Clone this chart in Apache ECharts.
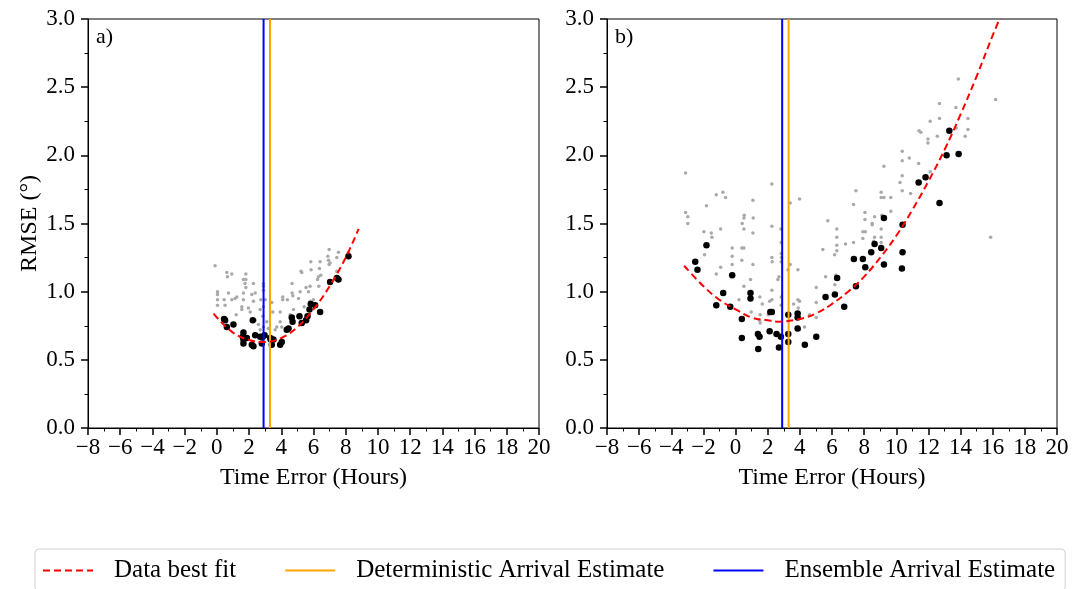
<!DOCTYPE html>
<html><head><meta charset="utf-8">
<script src="https://cdn.jsdelivr.net/npm/echarts@6/dist/echarts.min.js"></script>
<style>html,body{margin:0;padding:0;background:#fff}#c{width:1083px;height:589px}</style>
</head><body><div id="c"></div><script>
// ---- data ----
const xTicksLabel = 'Time Error (Hours)';
const yTicksLabel = 'RMSE (°)';
const panelLabels = ['a)', 'b)'];
const deterministicArrival = 3.3;
const ensembleArrival = 2.9;

const panelAGrey = [
[-0.11,1.19],[0.62,1.14],[0.93,1.13],[0.66,1.11],[1.80,1.13],[1.65,1.09],[1.80,1.09],[1.75,1.06],[1.80,1.03],[2.27,1.06],[2.89,1.06],[2.89,1.04],[2.89,1.01],[0.04,1.00],[0.04,0.98],[0.04,0.94],[0.04,0.90],[0.45,0.94],[0.51,0.90],[1.13,0.95],[1.24,0.96],[1.65,0.99],[1.65,0.94],[2.17,0.98],[2.27,0.93],[2.38,0.99],[2.73,0.94],[2.69,0.87],[2.89,0.89],[3.00,0.94],[2.85,0.82],[2.89,0.74],[2.69,0.72],[3.41,0.92],[3.47,0.85],[3.20,0.73],[3.93,0.85],[4.09,0.96],[4.09,0.94],[4.38,0.94],[4.67,1.06],[4.67,0.99],[4.72,0.97],[5.17,1.00],[5.27,1.14],[5.54,1.03],[5.69,1.00],[5.79,1.04],[5.83,1.22],[6.31,1.11],[6.25,1.09],[6.33,1.04],[6.41,1.22],[6.45,1.12],[6.97,1.31],[6.89,1.26],[7.03,1.21],[7.45,1.25],[7.55,1.29],[6.93,1.23],[6.37,1.17],[5.07,0.95],[4.76,0.87],[3.93,0.78],[3.62,0.72],[2.07,0.85],[1.55,0.87],[1.20,0.83],[1.55,0.89],[2.38,0.79],[2.58,0.76],[3.10,0.78],[3.72,0.74],[4.03,0.74],[4.55,0.83],[5.42,0.89],[5.99,0.94],[5.79,0.93],[0.72,0.99],[0.93,0.94],[1.96,0.88],[8.17,1.29],[7.45,1.15],[6.97,1.20],[5.85,1.16],[5.23,1.15]
];
const panelABlack = [
[0.45,0.80],[0.51,0.79],[0.62,0.74],[1.03,0.76],[1.65,0.70],[1.61,0.67],[1.65,0.65],[1.65,0.62],[2.17,0.61],[2.27,0.60],[2.23,0.79],[2.38,0.68],[2.69,0.67],[2.79,0.62],[2.96,0.68],[3.35,0.65],[3.41,0.61],[3.31,0.66],[3.93,0.61],[4.03,0.63],[4.34,0.72],[4.45,0.73],[4.65,0.81],[4.70,0.78],[5.13,0.82],[5.27,0.77],[5.54,0.79],[5.63,0.82],[5.75,0.87],[5.83,0.91],[6.10,0.90],[6.41,0.85],[7.03,1.07],[7.45,1.10],[7.55,1.09],[8.17,1.26],[2.85,0.67],[1.86,0.66],[3.51,0.65]
];
const panelBGrey = [
[-3.11,1.87],[-3.11,1.58],[-2.97,1.55],[-2.97,1.50],[-1.81,1.63],[-1.97,1.44],[-1.51,1.43],[-1.47,1.40],[-1.93,1.27],[-1.20,1.71],[-0.79,1.73],[-0.62,1.69],[-0.93,1.46],[-0.21,1.32],[-0.21,1.26],[-0.21,1.20],[-0.23,1.13],[0.41,1.50],[0.39,1.32],[0.52,1.32],[0.39,1.23],[0.52,1.46],[0.54,1.56],[0.52,1.54],[1.08,1.67],[1.10,1.54],[1.08,1.43],[1.08,1.20],[0.93,1.09],[-1.20,1.13],[-0.93,1.18],[0.52,1.04],[0.21,0.94],[0.93,0.99],[1.51,0.96],[1.66,0.91],[2.26,1.79],[2.26,1.48],[2.26,1.25],[2.28,1.22],[2.26,1.01],[2.26,0.94],[1.53,0.83],[1.53,0.77],[1.49,0.79],[2.82,1.46],[2.84,1.36],[2.84,1.28],[2.86,1.25],[2.84,1.22],[2.84,0.96],[2.84,0.90],[2.63,1.09],[2.70,1.11],[3.40,1.65],[3.26,1.16],[3.40,1.20],[3.98,1.68],[3.88,1.16],[3.88,0.94],[3.90,0.88],[3.98,0.93],[3.61,0.91],[4.61,0.83],[5.02,1.03],[5.02,0.92],[4.29,0.74],[2.12,0.93],[0.97,0.85],[2.03,0.83],
[13.86,2.56],[16.18,2.41],[12.69,2.38],[13.71,2.35],[12.69,2.27],[12.11,2.25],[14.46,2.27],[11.41,2.18],[11.53,2.17],[12.55,2.14],[11.97,2.12],[11.97,2.09],[13.73,2.20],[14.46,2.19],[14.29,2.14],[10.37,2.03],[10.37,1.96],[10.81,1.98],[11.39,1.94],[12.11,1.88],[10.37,1.85],[9.23,1.92],[10.23,1.80],[10.37,1.74],[10.89,1.72],[7.49,1.74],[9.06,1.73],[9.23,1.69],[9.06,1.69],[9.66,1.69],[7.34,1.64],[9.66,1.59],[8.05,1.58],[8.05,1.53],[8.65,1.55],[8.50,1.50],[8.50,1.49],[9.06,1.46],[9.10,1.56],[5.74,1.52],[6.30,1.46],[6.30,1.40],[6.30,1.34],[6.30,1.30],[6.84,1.35],[7.34,1.36],[7.92,1.44],[8.07,1.44],[7.92,1.39],[8.65,1.40],[8.59,1.37],[9.06,1.40],[9.06,1.36],[5.43,1.31],[6.16,1.27],[5.60,1.11],[6.24,1.12],[15.87,1.40],[6.18,1.05],[5.02,0.81],[3.98,0.72],[3.98,0.84]
];
const panelBBlack = [
[-1.81,1.34],[-2.51,1.22],[-2.37,1.16],[-0.21,1.12],[-1.20,0.90],[-0.77,0.99],[-0.33,0.89],[0.39,0.80],[0.93,0.99],[0.93,0.95],[0.39,0.66],[1.39,0.69],[1.49,0.67],[1.41,0.58],[2.12,0.71],[2.16,0.85],[2.26,0.85],[2.55,0.69],[2.82,0.67],[2.70,0.59],[3.28,0.83],[3.28,0.69],[3.28,0.63],[3.86,0.84],[3.86,0.81],[3.86,0.73],[4.31,0.61],[5.02,0.67],
[13.30,2.18],[13.13,2.00],[13.88,2.01],[11.82,1.84],[11.39,1.80],[12.69,1.65],[9.23,1.54],[10.39,1.49],[8.65,1.35],[9.06,1.32],[8.44,1.29],[10.39,1.29],[7.36,1.24],[7.92,1.24],[8.07,1.18],[9.23,1.20],[10.35,1.17],[6.32,1.10],[7.49,1.04],[5.60,0.96],[6.18,0.98],[6.76,0.89]
];
const fitAX = [-0.2, 0, 1, 2, 3, 4, 5, 6, 7, 8, 8.8];
const fitAY = [0.84, 0.81, 0.70, 0.645, 0.63, 0.66, 0.74, 0.87, 1.04, 1.25, 1.46];
const fitBX = [-3.2, -2, -1, 0, 1, 2, 2.7, 4, 5, 6, 7, 8, 9, 10, 11, 12, 13, 14, 15, 16, 16.6];
const fitBY = [1.19, 1.04, 0.94, 0.87, 0.81, 0.79, 0.78, 0.80, 0.84, 0.91, 1.00, 1.11, 1.25, 1.41, 1.60, 1.81, 2.04, 2.30, 2.58, 2.88, 3.05];

// ---- chart ----
const FF = '"Liberation Serif", "Times New Roman", serif';
const chart = echarts.init(document.getElementById('c'), null, {renderer: 'canvas'});
const grids = [
  {left: 88, top: 19, width: 451, height: 409},
  {left: 607, top: 19, width: 450, height: 409}
];
function xAxis(i) {
  return {
    gridIndex: i, type: 'value', min: -8, max: 20, interval: 2,
    name: xTicksLabel, nameLocation: 'middle', nameGap: 38,
    nameTextStyle: {fontFamily: FF, fontSize: 24, color: '#000'},
    axisLine: {show: true, onZero: false, lineStyle: {color: '#000', width: 1}},
    axisTick: {show: true, inside: false, length: 7, lineStyle: {color: '#000', width: 1.5}},
    minorTick: {show: true, splitNumber: 2, length: 3.5, lineStyle: {color: '#000', width: 1}},
    splitLine: {show: false}, minorSplitLine: {show: false},
    axisLabel: {fontFamily: FF, fontSize: 23, color: '#000', margin: 8,
      formatter: v => v < 0 ? '\u2212' + Math.abs(v) : String(v)}
  };
}
function yAxis(i) {
  return {
    gridIndex: i, type: 'value', min: 0, max: 3, interval: 0.5,
    name: i === 0 ? yTicksLabel : '', nameLocation: 'middle', nameGap: 46, nameRotate: 90,
    nameTextStyle: {fontFamily: FF, fontSize: 24, color: '#000'},
    axisLine: {show: true, onZero: false, lineStyle: {color: '#000', width: 1}},
    axisTick: {show: true, inside: false, length: 7, lineStyle: {color: '#000', width: 1.5}},
    minorTick: {show: true, splitNumber: 2, length: 3.5, lineStyle: {color: '#000', width: 1}},
    splitLine: {show: false}, minorSplitLine: {show: false},
    axisLabel: {fontFamily: FF, fontSize: 23, color: '#000', margin: 13,
      formatter: v => v.toFixed(1)}
  };
}
function zip(xs, ys) { return xs.map((x, k) => [x, ys[k]]); }
function panelSeries(i, grey, black, fx, fy) {
  return [
    {type: 'scatter', xAxisIndex: i, yAxisIndex: i, data: grey, symbolSize: 3.5,
     itemStyle: {color: '#a9a9a9', opacity: 1}, z: 2, silent: true},
    {type: 'scatter', xAxisIndex: i, yAxisIndex: i, data: black, symbolSize: 6.5,
     itemStyle: {color: '#000', opacity: 1}, z: 3, silent: true},
    {type: 'line', name: 'Data best fit', xAxisIndex: i, yAxisIndex: i, data: zip(fx, fy),
     smooth: 0.4, symbol: 'none', itemStyle: {color: '#ff0000'},
     lineStyle: {color: '#ff0000', width: 2, type: [7, 4]}, z: 6, silent: true},
    {type: 'line', name: 'Deterministic Arrival Estimate', xAxisIndex: i, yAxisIndex: i,
     data: [[deterministicArrival, 0], [deterministicArrival, 3]], symbol: 'none',
     itemStyle: {color: '#ffa500'}, lineStyle: {color: '#ffa500', width: 2}, z: 5, silent: true},
    {type: 'line', name: 'Ensemble Arrival Estimate', xAxisIndex: i, yAxisIndex: i,
     data: [[ensembleArrival, 0], [ensembleArrival, 3]], symbol: 'none',
     itemStyle: {color: '#0000ff'}, lineStyle: {color: '#0000ff', width: 2}, z: 5, silent: true}
  ];
}
chart.setOption({
  animation: false,
  backgroundColor: '#fff',
  grid: grids.map(g => Object.assign({show: true, borderColor: '#000', borderWidth: 1, backgroundColor: 'transparent'}, g)),
  xAxis: [xAxis(0), xAxis(1)],
  yAxis: [yAxis(0), yAxis(1)],
  legend: {
    data: ['Data best fit', 'Deterministic Arrival Estimate', 'Ensemble Arrival Estimate'],
    left: 35, top: 549, padding: [9, 10, 8, 7], itemGap: 48,
    itemWidth: 50, itemHeight: 14,
    itemStyle: {opacity: 0},
    backgroundColor: '#fff', borderColor: '#d0d0d0', borderWidth: 1, borderRadius: 4,
    textStyle: {fontFamily: FF, fontSize: 25, color: '#000', padding: [0, 0, 0, 16]},
    selectedMode: false
  },
  graphic: [
    {type: 'text', left: 96, top: 26, style: {text: panelLabels[0], font: '22px ' + FF, fill: '#000'}},
    {type: 'text', left: 615, top: 26, style: {text: panelLabels[1], font: '22px ' + FF, fill: '#000'}}
  ],
  series: [].concat(
    panelSeries(0, panelAGrey, panelABlack, fitAX, fitAY),
    panelSeries(1, panelBGrey, panelBBlack, fitBX, fitBY)
  )
});
</script></body></html>
